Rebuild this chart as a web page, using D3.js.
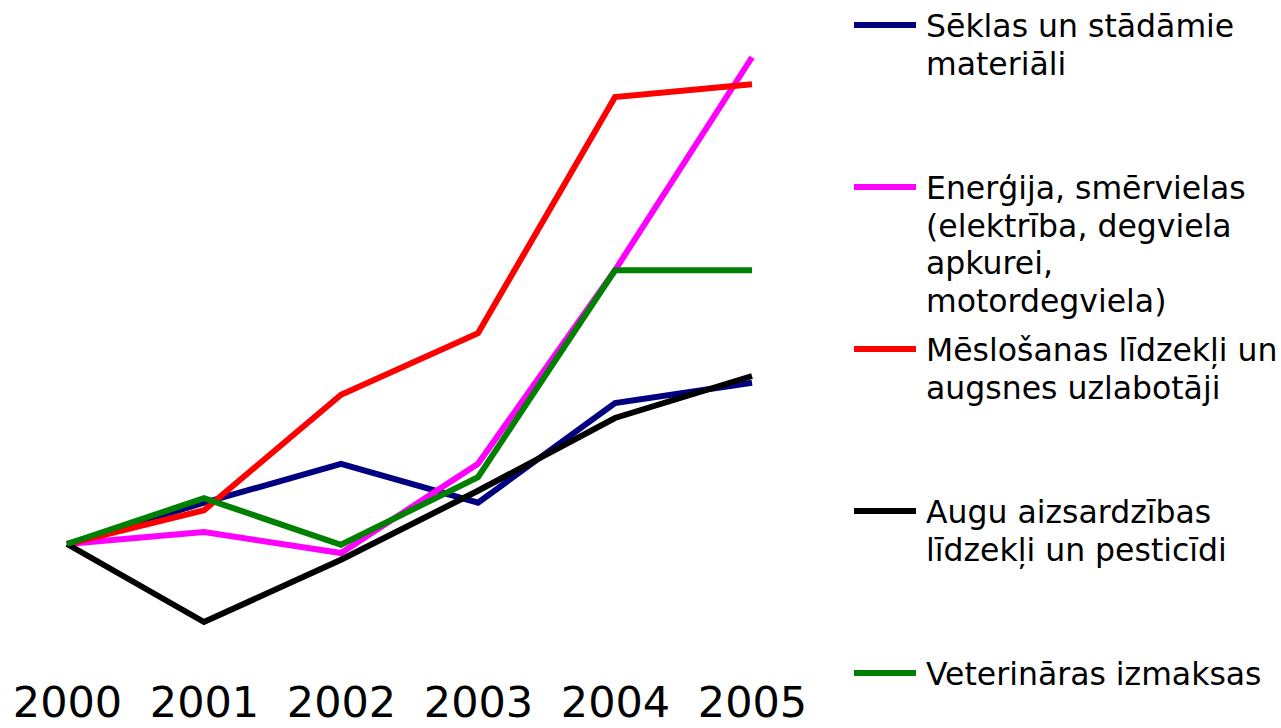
<!DOCTYPE html>
<meta charset="utf-8">
<style>
  body { margin: 0; background: #fff; }
  svg { display: block; font-family: "DejaVu Sans", Verdana, sans-serif; }
</style>
<svg width="1281" height="728"></svg>
<script src="https://cdnjs.cloudflare.com/ajax/libs/d3/7.8.5/d3.min.js"></script>
<script>

// years on the x axis
var years = ["2000", "2001", "2002", "2003", "2004", "2005"]

// price index per series, 2000 = 100
var seklas     = [100, 105.5, 110.7, 105.5, 118.8, 121.5]
var energija   = [100, 101.6,  98.8, 110.7, 136.5, 164.9]
var meslosana  = [100, 104.5, 119.9, 128.1, 159.6, 161.3]
var augu       = [100,  89.6,  97.9, 107.1, 116.8, 122.4]
var veterinara = [100, 106.1,  99.9, 108.9, 136.5, 136.5]

// legend labels, already wrapped as in the original
var labels = [
  ["Sēklas un stādāmie", "materiāli"],
  ["Enerģija, smērvielas", "(elektrība, degviela", "apkurei,", "motordegviela)"],
  ["Mēslošanas līdzekļi un", "augsnes uzlabotāji"],
  ["Augu aizsardzības", "līdzekļi un pesticīdi"],
  ["Veterināras izmaksas"]
]
var colors = ["#000080", "#ff00ff", "#ff0000", "#000000", "#008000"]

var series = [seklas, energija, meslosana, augu, veterinara].map(function (v, i) {
  return { values: v, label: labels[i], color: colors[i] }
})

var svg = d3.select("svg")

var x = d3.scalePoint().domain(years).range([67, 752])
var y = d3.scaleLinear().domain([80, 170]).range([694, 19])

var line = d3.line()
  .x(function (d, i) { return x(years[i]) })
  .y(function (d) { return y(d) })

// draw in order so green ends on top like in the original
svg.append("g")
  .selectAll("path")
  .data(series)
  .enter().append("path")
    .attr("d", function (s) { return line(s.values) })
    .attr("fill", "none")
    .attr("stroke", function (s) { return s.color })
    .attr("stroke-width", 6)
    .attr("stroke-linejoin", "miter")

// year labels, no axis line or ticks
var xAxis = svg.append("g")
  .attr("transform", "translate(0,685)")
  .call(d3.axisBottom(x).tickSize(0).tickPadding(0))
xAxis.select(".domain").remove()
xAxis.selectAll("text")
  .attr("font-family", "DejaVu Sans, sans-serif")
  .attr("font-size", 43)
  .attr("fill", "#000")
  .attr("dy", "0.74em")

// legend on the right
var legend = svg.append("g")
  .selectAll("g")
  .data(series)
  .enter().append("g")
    .attr("transform", function (s, i) { return "translate(854," + (25 + i * 162) + ")" })

legend.append("line")
  .attr("x1", 0).attr("x2", 62)
  .attr("stroke", function (s) { return s.color })
  .attr("stroke-width", 6)

legend.append("text")
  .attr("font-size", 31.5)
  .attr("fill", "#000")
  .selectAll("tspan")
  .data(function (s) { return s.label })
  .enter().append("tspan")
    .attr("x", 72)
    .attr("y", function (d, i) { return 12 + i * 37.5 })
    .text(function (d) { return d })

</script>
